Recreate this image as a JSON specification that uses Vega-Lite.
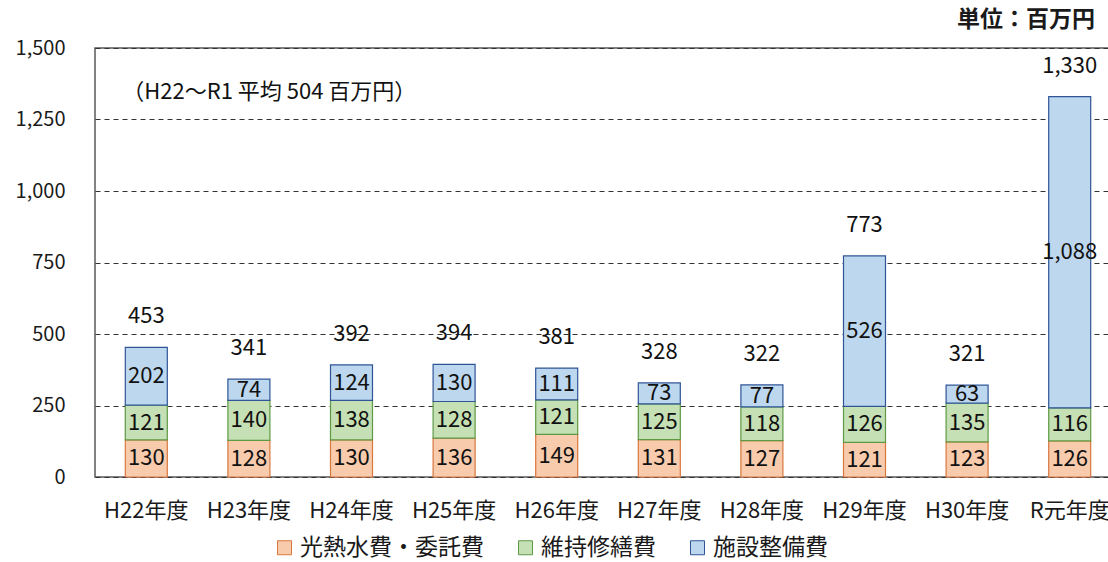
{
  "$schema": "https://vega.github.io/schema/vega-lite/v6.json",
  "autosize": {"type": "none"},
  "padding": {"left": 95, "top": 48, "right": 0, "bottom": 85},
  "width": 1026,
  "height": 429,
  "background": "white",
  "title": {"text": "単位：百万円", "anchor": "end", "dx": -26, "offset": 6, "fontSize": 23, "fontWeight": "bold", "font": "Noto Sans CJK JP", "color": "#1a1a1a"},
  "datasets": {
    "parts": [
      {"year": "H22年度", "cat": "光熱水費・委託費", "k": 1, "v": 130},
      {"year": "H22年度", "cat": "維持修繕費", "k": 2, "v": 121},
      {"year": "H22年度", "cat": "施設整備費", "k": 3, "v": 202},
      {"year": "H23年度", "cat": "光熱水費・委託費", "k": 1, "v": 128},
      {"year": "H23年度", "cat": "維持修繕費", "k": 2, "v": 140},
      {"year": "H23年度", "cat": "施設整備費", "k": 3, "v": 74},
      {"year": "H24年度", "cat": "光熱水費・委託費", "k": 1, "v": 130},
      {"year": "H24年度", "cat": "維持修繕費", "k": 2, "v": 138},
      {"year": "H24年度", "cat": "施設整備費", "k": 3, "v": 124},
      {"year": "H25年度", "cat": "光熱水費・委託費", "k": 1, "v": 136},
      {"year": "H25年度", "cat": "維持修繕費", "k": 2, "v": 128},
      {"year": "H25年度", "cat": "施設整備費", "k": 3, "v": 130},
      {"year": "H26年度", "cat": "光熱水費・委託費", "k": 1, "v": 149},
      {"year": "H26年度", "cat": "維持修繕費", "k": 2, "v": 121},
      {"year": "H26年度", "cat": "施設整備費", "k": 3, "v": 111},
      {"year": "H27年度", "cat": "光熱水費・委託費", "k": 1, "v": 131},
      {"year": "H27年度", "cat": "維持修繕費", "k": 2, "v": 125},
      {"year": "H27年度", "cat": "施設整備費", "k": 3, "v": 73},
      {"year": "H28年度", "cat": "光熱水費・委託費", "k": 1, "v": 127},
      {"year": "H28年度", "cat": "維持修繕費", "k": 2, "v": 118},
      {"year": "H28年度", "cat": "施設整備費", "k": 3, "v": 77},
      {"year": "H29年度", "cat": "光熱水費・委託費", "k": 1, "v": 121},
      {"year": "H29年度", "cat": "維持修繕費", "k": 2, "v": 126},
      {"year": "H29年度", "cat": "施設整備費", "k": 3, "v": 526},
      {"year": "H30年度", "cat": "光熱水費・委託費", "k": 1, "v": 123},
      {"year": "H30年度", "cat": "維持修繕費", "k": 2, "v": 135},
      {"year": "H30年度", "cat": "施設整備費", "k": 3, "v": 63},
      {"year": "R元年度", "cat": "光熱水費・委託費", "k": 1, "v": 126},
      {"year": "R元年度", "cat": "維持修繕費", "k": 2, "v": 116},
      {"year": "R元年度", "cat": "施設整備費", "k": 3, "v": 1088}
    ],
    "totals": [
      {"year": "H22年度", "total": 453},
      {"year": "H23年度", "total": 341},
      {"year": "H24年度", "total": 392},
      {"year": "H25年度", "total": 394},
      {"year": "H26年度", "total": 381},
      {"year": "H27年度", "total": 328},
      {"year": "H28年度", "total": 322},
      {"year": "H29年度", "total": 773},
      {"year": "H30年度", "total": 321},
      {"year": "R元年度", "total": 1330}
    ]
  },
  "encoding": {
    "x": {
      "field": "year", "type": "nominal", "title": null,
      "sort": ["H22年度","H23年度","H24年度","H25年度","H26年度","H27年度","H28年度","H29年度","H30年度","R元年度"],
      "scale": {"paddingInner": 0, "paddingOuter": 0},
      "axis": {"labelAngle": 0, "labelFontSize": 22, "labelPadding": 23, "ticks": false, "domain": false, "grid": false, "labelFont": "Noto Sans CJK JP", "labelColor": "#1a1a1a"}
    }
  },
  "resolve": {"scale": {"y": "shared"}},
  "layer": [
    {
      "data": {"name": "parts"},
      "mark": {"type": "bar", "size": 42, "strokeWidth": 1.2},
      "encoding": {
        "y": {
          "field": "v", "type": "quantitative", "stack": "zero", "title": null,
          "scale": {"domain": [0, 1500], "nice": false, "zero": true},
          "axis": {"values": [0, 250, 500, 750, 1000, 1250, 1500], "format": ",d", "labelFontSize": 20, "labelPadding": 30, "ticks": false, "domain": false, "grid": true, "gridDash": [5, 4], "gridColor": "#333333", "gridWidth": 1, "labelFont": "Noto Sans CJK JP", "labelColor": "#1a1a1a"}
        },
        "order": {"field": "k", "type": "quantitative"},
        "fill": {
          "field": "cat", "type": "nominal", "title": null,
          "scale": {"domain": ["光熱水費・委託費", "維持修繕費", "施設整備費"], "range": ["#F8CBAD", "#C5E0B4", "#BDD7EE"]},
          "legend": {"orient": "none", "legendX": 178, "legendY": 488, "direction": "horizontal", "symbolType": "square", "symbolSize": 196, "labelFontSize": 23, "labelLimit": 400, "labelOffset": 4, "labelFont": "Noto Sans CJK JP", "labelColor": "#1a1a1a", "columnPadding": 30, "symbolStrokeWidth": 1}
        },
        "stroke": {
          "field": "cat", "type": "nominal", "title": null,
          "scale": {"domain": ["光熱水費・委託費", "維持修繕費", "施設整備費"], "range": ["#D9773E", "#5E9A45", "#2F5597"]}
        }
      }
    },
    {
      "data": {"name": "parts"},
      "mark": {"type": "text", "fontSize": 22, "font": "Noto Sans CJK JP", "color": "#111111", "baseline": "middle"},
      "encoding": {
        "y": {"field": "v", "type": "quantitative", "stack": "zero", "bandPosition": 0.5},
        "order": {"field": "k", "type": "quantitative"},
        "text": {"field": "v", "type": "quantitative", "format": ","}
      }
    },
    {
      "data": {"name": "totals"},
      "mark": {"type": "text", "fontSize": 22, "font": "Noto Sans CJK JP", "color": "#111111", "baseline": "middle", "dy": -31},
      "encoding": {
        "y": {"field": "total", "type": "quantitative"},
        "text": {"field": "total", "type": "quantitative", "format": ","}
      }
    },
    {
      "data": {"values": [{}]},
      "mark": {"type": "text", "fontSize": 22, "font": "Noto Sans CJK JP", "color": "#111111", "baseline": "middle", "align": "left", "dx": -24},
      "encoding": {
        "x": {"datum": "H22年度"},
        "y": {"datum": 1346, "type": "quantitative"},
        "text": {"value": "（H22～R1 平均 504 百万円）"}
      }
    }
  ],
  "config": {
    "view": {"stroke": "#595959", "strokeWidth": 1.5}
  }
}
